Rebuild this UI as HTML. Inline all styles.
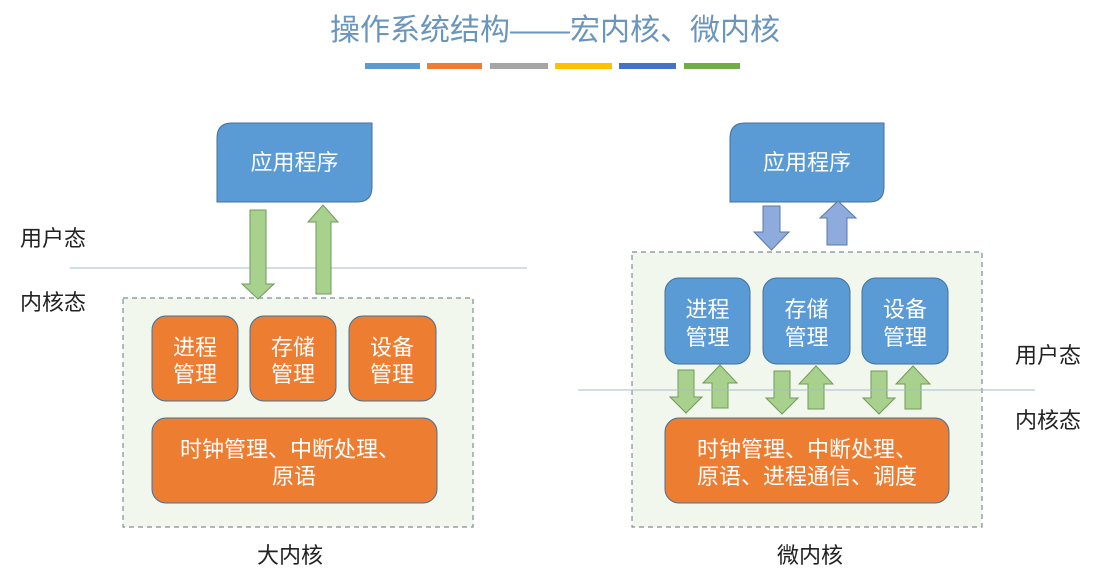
<!DOCTYPE html>
<html><head><meta charset="utf-8"><style>
html,body{margin:0;padding:0;background:#fff;}
svg{display:block;}
text{font-family:"Liberation Sans","Noto Sans CJK SC",sans-serif;}
</style></head><body>
<svg width="1099" height="584" viewBox="0 0 1099 584" xmlns="http://www.w3.org/2000/svg">
<defs>
<g id="dn"><path d="M7 0 H23 V27 H31 L15 43 L-1 27 H7 Z" fill="#a9d18e" stroke="#6e9a5a" stroke-width="1"/></g>
<g id="up"><path d="M9 43 V18 H0 L17 0 L34 18 H25 V43 Z" fill="#a9d18e" stroke="#6e9a5a" stroke-width="1"/></g>
</defs>
<text x="555" y="40" font-size="30" fill="#6a95bd" text-anchor="middle">操作系统结构——宏内核、微内核</text>
<rect x="365" y="63" width="55" height="6" fill="#5b9bd5"/>
<rect x="427" y="63" width="55" height="6" fill="#ed7d31"/>
<rect x="490" y="63" width="58" height="6" fill="#a5a5a5"/>
<rect x="555" y="63" width="57" height="6" fill="#ffc000"/>
<rect x="619" y="63" width="57" height="6" fill="#4472c4"/>
<rect x="684" y="63" width="56" height="6" fill="#70ad47"/>

<!-- left -->
<path d="M232 123 H372 V187 Q372 202 357 202 H217 V138 Q217 123 232 123 Z" fill="#5b9bd5" stroke="#41719c" stroke-width="1"/>
<text x="294.5" y="170" font-size="22" fill="#fff" text-anchor="middle">应用程序</text>
<line x1="70" y1="268" x2="527" y2="268" stroke="#a6bccc" stroke-width="1"/>
<text x="20" y="246" font-size="22" fill="#222">用户态</text>
<text x="20" y="310" font-size="22" fill="#222">内核态</text>
<rect x="123" y="298" width="350" height="229" fill="#f2f7ee" stroke="#7f8c9a" stroke-width="1.2" stroke-dasharray="5,4"/>
<path d="M250 210 H266 V284 H274 L258 299 L242 284 H250 Z" fill="#a9d18e" stroke="#6e9a5a"/>
<path d="M316 294 V222 H308 L323 205 L338 222 H331 V294 Z" fill="#a9d18e" stroke="#6e9a5a"/>
<g fill="#ed7d31" stroke="#41719c" stroke-width="1">
<rect x="152" y="316" width="86" height="85" rx="14"/>
<rect x="250" y="316" width="86" height="85" rx="14"/>
<rect x="349" y="316" width="87" height="85" rx="14"/>
<rect x="152" y="418" width="285" height="85" rx="14"/>
</g>
<g font-size="22" fill="#fff" text-anchor="middle">
<text x="195" y="355">进程</text><text x="195" y="382">管理</text>
<text x="293" y="355">存储</text><text x="293" y="382">管理</text>
<text x="392" y="355">设备</text><text x="392" y="382">管理</text>
<text x="290" y="457">时钟管理、中断处理、</text>
<text x="294" y="484">原语</text>
</g>
<text x="290" y="563" font-size="22" fill="#222" text-anchor="middle">大内核</text>

<!-- right -->
<path d="M745 123 H884 V187 Q884 202 869 202 H730 V138 Q730 123 745 123 Z" fill="#5b9bd5" stroke="#41719c" stroke-width="1"/>
<text x="807" y="170" font-size="22" fill="#fff" text-anchor="middle">应用程序</text>
<path d="M763 206 H780 V232 H789 L771.5 250 L754 232 H763 Z" fill="#8faadc" stroke="#5a78a8"/>
<path d="M827 245 V218 H820 L838 201 L856 218 H847 V245 Z" fill="#8faadc" stroke="#5a78a8"/>
<rect x="632" y="252" width="350" height="275" fill="#f2f7ee" stroke="#7f8c9a" stroke-width="1.2" stroke-dasharray="5,4"/>
<g fill="#5b9bd5" stroke="#41719c" stroke-width="1">
<rect x="665" y="278" width="85" height="86" rx="14"/>
<rect x="763" y="278" width="87" height="86" rx="14"/>
<rect x="862" y="278" width="86" height="86" rx="14"/>
</g>
<g font-size="22" fill="#fff" text-anchor="middle">
<text x="707.5" y="317">进程</text><text x="707.5" y="345">管理</text>
<text x="806.5" y="317">存储</text><text x="806.5" y="345">管理</text>
<text x="905" y="317">设备</text><text x="905" y="345">管理</text>
</g>
<g transform="translate(671,370)"><use href="#dn"/></g>
<g transform="translate(703,365)"><use href="#up"/></g>
<g transform="translate(767,371)"><use href="#dn"/></g>
<g transform="translate(799,366)"><use href="#up"/></g>
<g transform="translate(864,371)"><use href="#dn"/></g>
<g transform="translate(896,366)"><use href="#up"/></g>
<line x1="578" y1="390" x2="1035" y2="390" stroke="#a6bccc" stroke-width="1"/>
<rect x="665" y="418" width="284" height="85" rx="14" fill="#ed7d31" stroke="#41719c" stroke-width="1"/>
<g font-size="22" fill="#fff" text-anchor="middle">
<text x="807" y="457">时钟管理、中断处理、</text>
<text x="807" y="484">原语、进程通信、调度</text>
</g>
<text x="1015" y="363" font-size="22" fill="#222">用户态</text>
<text x="1015" y="428" font-size="22" fill="#222">内核态</text>
<text x="810" y="563" font-size="22" fill="#222" text-anchor="middle">微内核</text>
</svg>
</body></html>
